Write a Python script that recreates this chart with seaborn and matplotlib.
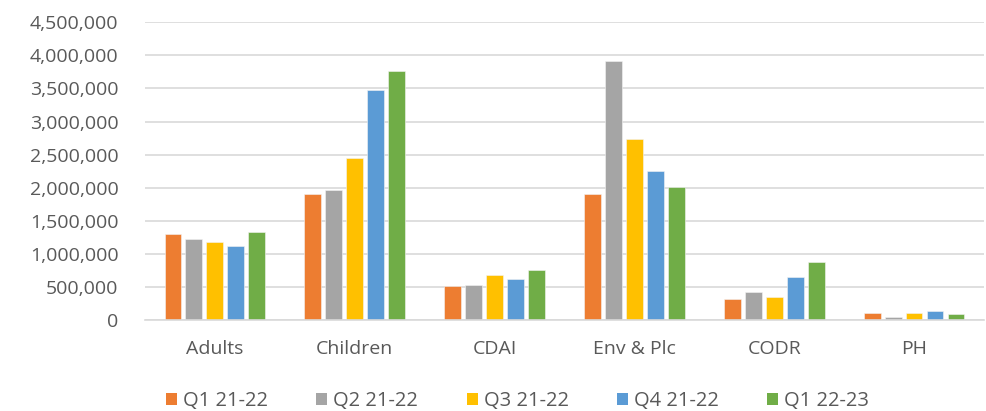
import matplotlib
matplotlib.use("Agg")
import matplotlib.pyplot as plt
import matplotlib.ticker as mticker
from matplotlib.patches import Patch
import pandas as pd
import seaborn as sns

categories = ["Adults", "Children", "CDAI", "Env & Plc", "CODR", "PH"]
quarters = ["Q1 21-22", "Q2 21-22", "Q3 21-22", "Q4 21-22", "Q1 22-23"]
q1_21_22 = [1300000, 1900000, 512000, 1900000, 321000, 110000]
q2_21_22 = [1223000, 1960000, 538000, 3910000, 422000, 45000]
q3_21_22 = [1182000, 2445000, 688000, 2739000, 357000, 110000]
q4_21_22 = [1126000, 3475000, 628000, 2249000, 652000, 146000]
q1_22_23 = [1337000, 3768000, 764000, 2015000, 884000, 90000]
colors = ["#ED7D31", "#A5A5A5", "#FFC000", "#5B9BD5", "#70AD47"]

series = [q1_21_22, q2_21_22, q3_21_22, q4_21_22, q1_22_23]
rows = []
for q, vals in zip(quarters, series):
    for c, v in zip(categories, vals):
        rows.append({"Category": c, "Quarter": q, "Value": v})
df = pd.DataFrame(rows)

sns.set_theme(style="white")
plt.rcParams["font.family"] = ["Open Sans", "DejaVu Sans"]
text_color = "#595959"

fig = plt.figure(figsize=(9.86, 4.11), dpi=100)
ax = fig.add_axes([0.147, 0.221, 0.851, 0.725])

sns.barplot(data=df, x="Category", y="Value", hue="Quarter",
            order=categories, hue_order=quarters, palette=colors,
            width=0.75, gap=0.2, saturation=1, edgecolor="#F4F4F4",
            linewidth=0.4, ax=ax, legend=False)

ax.set_ylim(0, 4500000)
ax.set_yticks(range(0, 4500001, 500000))
ax.yaxis.set_major_formatter(mticker.FuncFormatter(lambda v, p: f"{int(v):,}"))
ax.grid(axis="y", color="#D9D9D9", linewidth=1.2)
ax.set_axisbelow(True)
for s in ["left", "right", "top"]:
    ax.spines[s].set_visible(False)
ax.spines["bottom"].set_color("#D9D9D9")
ax.spines["bottom"].set_linewidth(1.2)
ax.set_xlabel("")
ax.set_ylabel("")
ax.tick_params(axis="y", length=0, pad=19, labelsize=14, labelcolor=text_color)
ax.tick_params(axis="x", length=0, pad=14, labelsize=14, labelcolor=text_color)

handles = [Patch(facecolor=c, edgecolor="none") for c in colors]
fig.legend(handles, quarters, loc="center", bbox_to_anchor=(0.525, 0.025),
           ncol=5, frameon=False, fontsize=14.5, labelcolor=text_color,
           handlelength=0.55, handleheight=0.55, handletextpad=0.3,
           columnspacing=2.4)

fig.savefig("out.png", dpi=100)
